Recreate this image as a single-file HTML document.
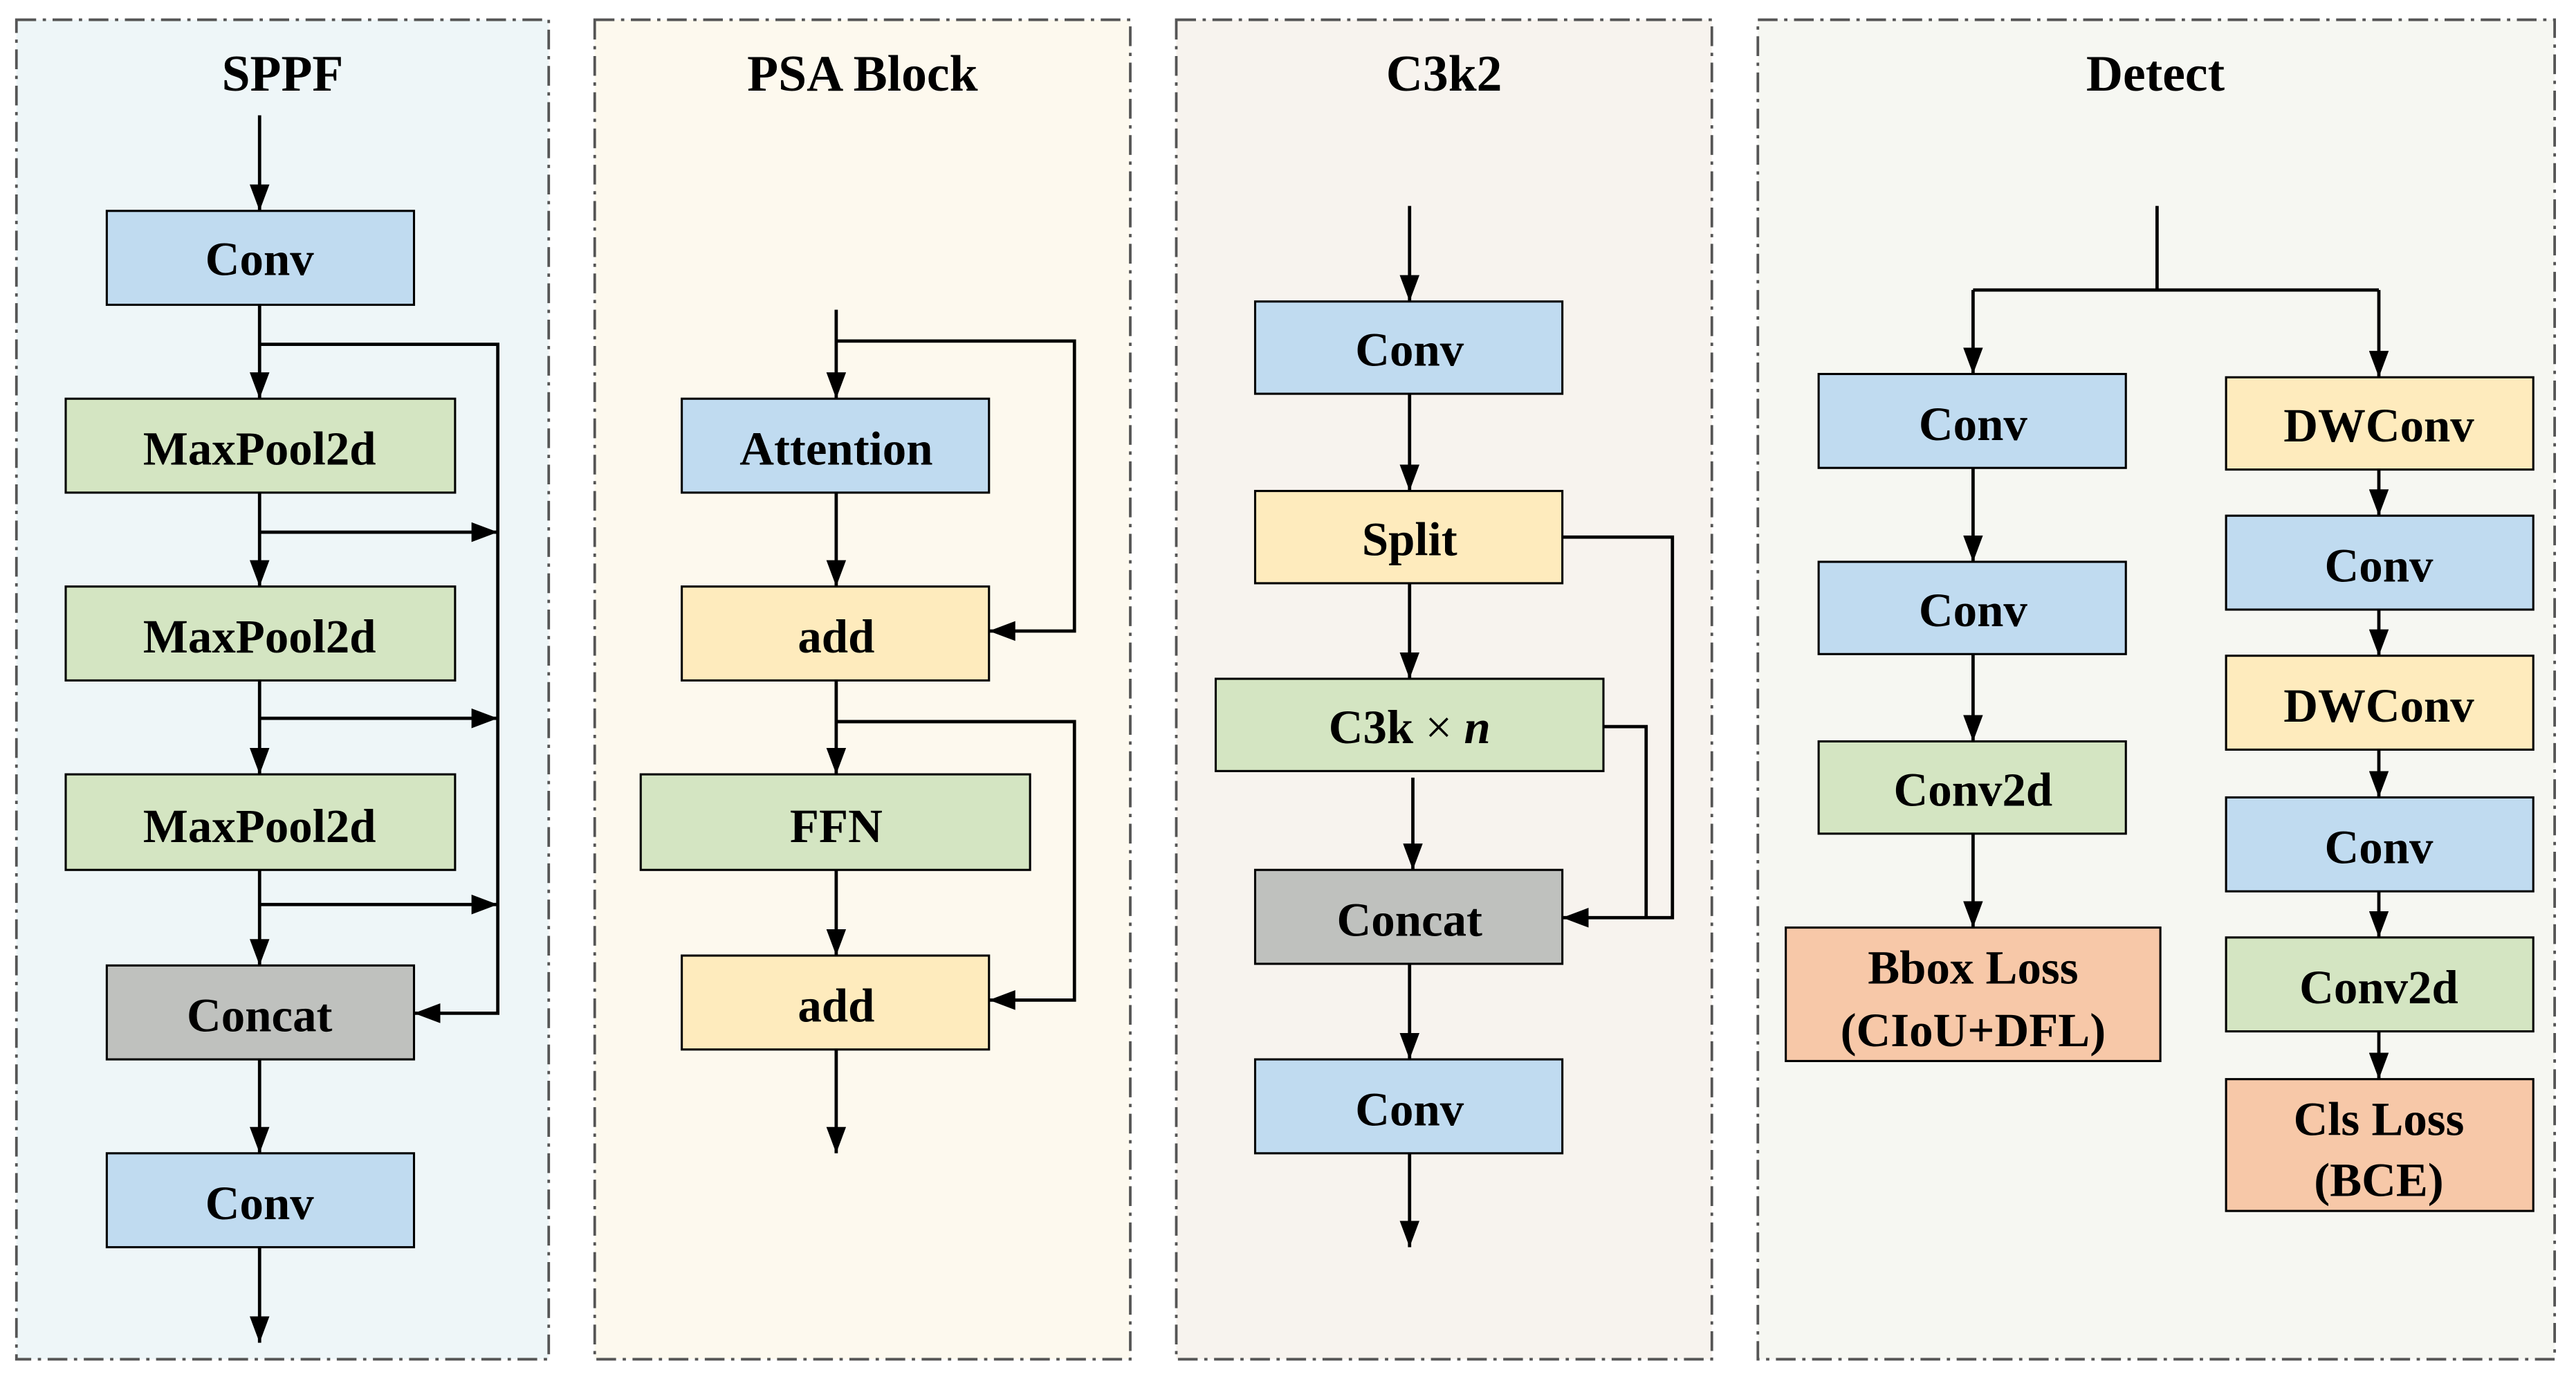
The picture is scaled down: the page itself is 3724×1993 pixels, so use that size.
<!DOCTYPE html>
<html><head><style>html,body{margin:0;padding:0;background:#fff}svg{display:block}</style></head>
<body>
<svg width="3724" height="1993" viewBox="0 0 1568 837" preserveAspectRatio="none" xmlns="http://www.w3.org/2000/svg" font-family="Liberation Serif, serif" font-weight="bold">
<defs>
<marker id="h" viewBox="0 0 16 12" refX="16" refY="6" markerWidth="16" markerHeight="12" markerUnits="userSpaceOnUse" orient="auto"><path d="M0,0L16,6L0,12z" fill="#000"/></marker>
</defs>
<g stroke="#555" stroke-width="1.6" stroke-dasharray="12,4,2,4">
<rect x="10" y="12" width="324" height="813" fill="#eef6f8"/>
<rect x="362" y="12" width="326" height="813" fill="#fdf9ee"/>
<rect x="716" y="12" width="326" height="813" fill="#f7f3ee"/>
<rect x="1070" y="12" width="485" height="813" fill="#f6f7f2"/>
</g>
<g font-size="31" text-anchor="middle">
<text x="172" y="55">SPPF</text><text x="525" y="55">PSA Block</text><text x="879" y="55">C3k2</text><text x="1312" y="55">Detect</text>
</g>
<g stroke="#000" stroke-width="1.3">
<rect x="65" y="128" width="187" height="57" fill="#c0dbf0"/>
<rect x="40" y="242" width="237" height="57" fill="#d4e5c2"/>
<rect x="40" y="356" width="237" height="57" fill="#d4e5c2"/>
<rect x="40" y="470" width="237" height="58" fill="#d4e5c2"/>
<rect x="65" y="586" width="187" height="57" fill="#bfc1be"/>
<rect x="65" y="700" width="187" height="57" fill="#c0dbf0"/>
<rect x="415" y="242" width="187" height="57" fill="#c0dbf0"/>
<rect x="415" y="356" width="187" height="57" fill="#feebbd"/>
<rect x="390" y="470" width="237" height="58" fill="#d4e5c2"/>
<rect x="415" y="580" width="187" height="57" fill="#feebbd"/>
<rect x="764" y="183" width="187" height="56" fill="#c0dbf0"/>
<rect x="764" y="298" width="187" height="56" fill="#feebbd"/>
<rect x="740" y="412" width="236" height="56" fill="#d4e5c2"/>
<rect x="764" y="528" width="187" height="57" fill="#bfc1be"/>
<rect x="764" y="643" width="187" height="57" fill="#c0dbf0"/>
<rect x="1107" y="227" width="187" height="57" fill="#c0dbf0"/>
<rect x="1107" y="341" width="187" height="56" fill="#c0dbf0"/>
<rect x="1107" y="450" width="187" height="56" fill="#d4e5c2"/>
<rect x="1087" y="563" width="228" height="81" fill="#f7c8a8"/>
<rect x="1355" y="229" width="187" height="56" fill="#feebbd"/>
<rect x="1355" y="313" width="187" height="57" fill="#c0dbf0"/>
<rect x="1355" y="398" width="187" height="57" fill="#feebbd"/>
<rect x="1355" y="484" width="187" height="57" fill="#c0dbf0"/>
<rect x="1355" y="569" width="187" height="57" fill="#d4e5c2"/>
<rect x="1355" y="655" width="187" height="80" fill="#f7c8a8"/>
</g>
<g font-size="29" text-anchor="middle">
<text x="158" y="167">Conv</text>
<text x="158" y="282">MaxPool2d</text>
<text x="158" y="396">MaxPool2d</text>
<text x="158" y="511">MaxPool2d</text>
<text x="158" y="626">Concat</text>
<text x="158" y="740">Conv</text>
<text x="509" y="282">Attention</text>
<text x="509" y="396">add</text>
<text x="509" y="511">FFN</text>
<text x="509" y="620">add</text>
<text x="858" y="222">Conv</text>
<text x="858" y="337">Split</text>
<text x="858" y="451">C3k <tspan font-weight="normal">×</tspan> <tspan font-style="italic">n</tspan></text>
<text x="858" y="568">Concat</text>
<text x="858" y="683">Conv</text>
<text x="1201" y="267">Conv</text>
<text x="1201" y="380">Conv</text>
<text x="1201" y="489">Conv2d</text>
<text x="1201" y="597">Bbox Loss</text>
<text x="1201" y="635">(CIoU+DFL)</text>
<text x="1448" y="268">DWConv</text>
<text x="1448" y="353">Conv</text>
<text x="1448" y="438">DWConv</text>
<text x="1448" y="524">Conv</text>
<text x="1448" y="609">Conv2d</text>
<text x="1448" y="689">Cls Loss</text>
<text x="1448" y="726">(BCE)</text>
</g>
<g stroke="#000" stroke-width="2" fill="none">
<path d="M158,70V128" marker-end="url(#h)"/>
<path d="M158,185V242" marker-end="url(#h)"/>
<path d="M158,299V356" marker-end="url(#h)"/>
<path d="M158,413V470" marker-end="url(#h)"/>
<path d="M158,528V586" marker-end="url(#h)"/>
<path d="M158,643V700" marker-end="url(#h)"/>
<path d="M158,757V815" marker-end="url(#h)"/>
<path d="M158,209H303V615H252" marker-end="url(#h)"/>
<path d="M158,323H303" marker-end="url(#h)"/>
<path d="M158,436H303" marker-end="url(#h)"/>
<path d="M158,549H303" marker-end="url(#h)"/>
<path d="M509,188V242" marker-end="url(#h)"/>
<path d="M509,207H654V383H602" marker-end="url(#h)"/>
<path d="M509,299V356" marker-end="url(#h)"/>
<path d="M509,413V470" marker-end="url(#h)"/>
<path d="M509,438H654V607H602" marker-end="url(#h)"/>
<path d="M509,528V580" marker-end="url(#h)"/>
<path d="M509,637V700" marker-end="url(#h)"/>
<path d="M858,125V183" marker-end="url(#h)"/>
<path d="M858,239V298" marker-end="url(#h)"/>
<path d="M858,354V412" marker-end="url(#h)"/>
<path d="M860,472V528" marker-end="url(#h)"/>
<path d="M858,585V643" marker-end="url(#h)"/>
<path d="M858,700V757" marker-end="url(#h)"/>
<path d="M951,326H1018V557H951" marker-end="url(#h)"/>
<path d="M976,441H1002V557"/>
<path d="M1313,125V176"/>
<path d="M1201,176H1448"/>
<path d="M1201,176V227" marker-end="url(#h)"/>
<path d="M1448,176V229" marker-end="url(#h)"/>
<path d="M1201,284V341" marker-end="url(#h)"/>
<path d="M1201,397V450" marker-end="url(#h)"/>
<path d="M1201,506V563" marker-end="url(#h)"/>
<path d="M1448,285V313" marker-end="url(#h)"/>
<path d="M1448,370V398" marker-end="url(#h)"/>
<path d="M1448,455V484" marker-end="url(#h)"/>
<path d="M1448,541V569" marker-end="url(#h)"/>
<path d="M1448,626V655" marker-end="url(#h)"/>
</g>
</svg>
</body></html>
